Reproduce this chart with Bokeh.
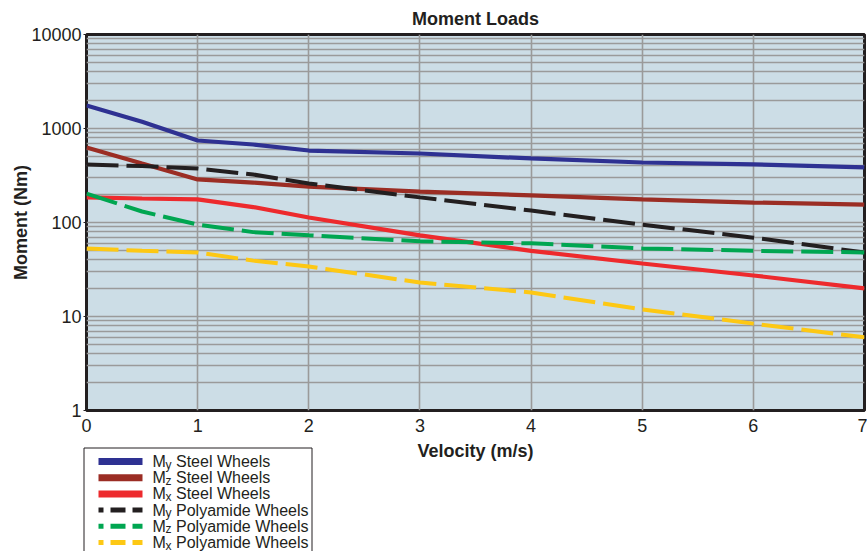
from bokeh.plotting import figure
from bokeh.layouts import column
from bokeh.models import FixedTicker, PrintfTickFormatter, Range1d
from bokeh.core.properties import value
from bokeh.embed import file_html
from bokeh.resources import INLINE

# ---------------- data ----------------
velocity = [0, 0.5, 1, 1.5, 2, 3, 4, 5, 6, 7]
my_steel = [1757, 1180, 745, 676, 583, 542, 480, 435, 415, 385]
mz_steel = [628, 424, 287, 266, 241, 213, 194, 176, 163, 155]
mx_steel = [185, 180, 176, 146, 113, 73, 50, 36.6, 27.3, 19.9]
my_poly = [414, 398, 375, 324, 260, 185, 134, 95, 69, 48]
mz_poly = [203, 131, 95, 79, 73, 63, 60, 53, 50, 48]
mx_poly = [53, 50, 48, 39.3, 34, 23, 18, 11.9, 8.4, 6.0]

x_ticks = [0, 1, 2, 3, 4, 5, 6, 7]
y_ticks = [1, 10, 100, 1000, 10000]
y_minor = [m * d for d in (1, 10, 100, 1000) for m in range(2, 10)]

series = [
    ("M", "y", "Steel Wheels", my_steel, "#2E3192", None),
    ("M", "z", "Steel Wheels", mz_steel, "#9B2D24", None),
    ("M", "x", "Steel Wheels", mx_steel, "#ED2A2D", None),
    ("M", "y", "Polyamide Wheels", my_poly, "#231F20", "dash"),
    ("M", "z", "Polyamide Wheels", mz_poly, "#00A651", "dash"),
    ("M", "x", "Polyamide Wheels", mx_poly, "#FDC814", "dash"),
]

FONT = "Liberation Sans"
INK = "#231F20"

# frame placement (page pixels)
FX0, FX1, FY0, FY1 = 86, 864, 34, 410
MAIN_H = 463      # main figure height
LEG_TOP = 440     # legend figure top (page px)
PAGE_W, PAGE_H = 867, 551

p = figure(width=PAGE_W, height=MAIN_H,
           frame_width=FX1 - FX0, frame_height=FY1 - FY0, y_axis_type="log",
           x_range=Range1d(0, 7), y_range=Range1d(1, 10000),
           output_backend="svg", toolbar_location=None,
           min_border_left=FX0, min_border_right=PAGE_W - FX1,
           min_border_top=FY0, min_border_bottom=MAIN_H - FY1)

p.title.text = "Moment Loads"
p.title.align = "center"
p.title.text_font = FONT
p.title.text_font_size = "18px"
p.title.text_font_style = "bold"
p.title.text_color = INK
p.title.standoff = 12

p.background_fill_color = "#CCDDE6"
p.border_fill_color = "white"
p.outline_line_color = INK
p.outline_line_width = 3

# grids
p.xgrid.ticker = FixedTicker(ticks=x_ticks)
p.xgrid.grid_line_color = "#9A9A9A"
p.xgrid.grid_line_width = 1.6
p.ygrid.ticker = FixedTicker(ticks=y_ticks, minor_ticks=y_minor)
p.ygrid.grid_line_color = "#9A9A9A"
p.ygrid.grid_line_width = 1.6
p.ygrid.minor_grid_line_color = "#9A9A9A"
p.ygrid.minor_grid_line_width = 1.4

# axes
p.xaxis.ticker = FixedTicker(ticks=x_ticks)
p.yaxis.ticker = FixedTicker(ticks=y_ticks)
p.yaxis.formatter = PrintfTickFormatter(format="%d")
for ax in (p.xaxis[0], p.yaxis[0]):
    ax.axis_line_color = None
    ax.major_tick_line_color = INK
    ax.major_tick_in = 0
    ax.major_tick_out = 3
    ax.minor_tick_line_color = None
    ax.major_label_text_font = FONT
    ax.major_label_text_font_size = "18px"
    ax.major_label_text_color = INK
    ax.axis_label_text_font = FONT
    ax.axis_label_text_font_style = "bold"
    ax.axis_label_text_font_size = "18px"
    ax.axis_label_text_color = INK
p.xaxis.major_tick_line_color = None
p.xaxis.major_label_standoff = 5
p.xaxis.axis_label = "Velocity (m/s)"
p.xaxis.axis_label_standoff = 6
p.yaxis.axis_label = "Moment (Nm)"
p.yaxis.major_label_standoff = 2
p.yaxis.axis_label_standoff = -3

# data lines
for _, _, _, vals, color, dash in series:
    if dash:
        p.line(velocity, vals, line_color=color, line_width=4,
               line_dash="32 8", line_cap="butt")
    else:
        p.line(velocity, vals, line_color=color, line_width=4.2)

# ---------------- legend figure (pixel coordinates of the page) ----------------
leg = figure(width=PAGE_W, height=PAGE_H - LEG_TOP,
             y_range=Range1d(PAGE_H, LEG_TOP),
             output_backend="svg", toolbar_location=None)
if "frame_align" in leg.properties():
    leg.frame_align = False
    leg.min_border = 0
    leg.x_range = Range1d(0, PAGE_W)
else:
    leg.min_border_left = FX0
    leg.min_border_right = PAGE_W - FX1
    leg.min_border_top = 0
    leg.min_border_bottom = 0
    leg.x_range = Range1d(FX0, FX1)
leg.margin = (-(MAIN_H - LEG_TOP), 0, 0, 0)
leg.axis.visible = False
leg.grid.visible = False
leg.outline_line_color = None
leg.background_fill_alpha = 0
leg.border_fill_alpha = 0

leg.quad(left=[83.5], right=[311.5], top=[447.5], bottom=[600],
         fill_color="white", line_color=INK, line_width=1)

row0, row_gap = 461, 16.2
rows = [row0 + i * row_gap for i in range(len(series))]
for (m, sub, rest, _, color, dash), ry in zip(series, rows):
    if dash:
        leg.line([98, 142], [ry, ry], line_color=color, line_width=5,
                 line_dash="5 7 15 7 11 60", line_cap="butt")
    else:
        leg.line([98, 142], [ry, ry], line_color=color, line_width=7,
                 line_cap="butt")
    leg.text([152], [ry], text=[m], text_font=value(FONT),
             text_font_size="16px", text_baseline="middle", text_color=INK)
    leg.text([165], [ry + 3], text=[sub], text_font=value(FONT),
             text_font_size="12px", text_baseline="middle", text_color=INK)
    leg.text([175.5], [ry], text=[rest], text_font=value(FONT),
             text_font_size="16px", text_baseline="middle", text_color=INK)

layout = column(p, leg, spacing=0)
open("out.html", "w").write(file_html(layout, INLINE))
